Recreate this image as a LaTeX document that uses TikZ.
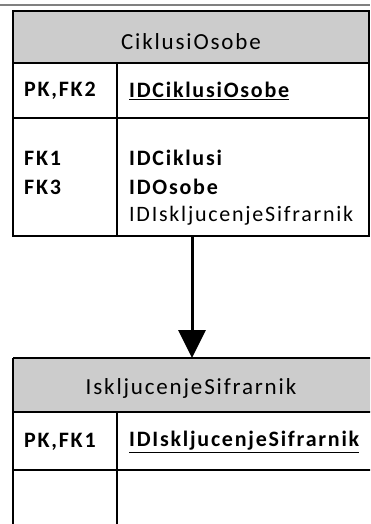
\documentclass[tikz,border=0pt]{standalone}
\usepackage{fontspec}
\setmainfont{Carlito}[LetterSpace=8]
\usetikzlibrary{arrows.meta}
\begin{document}
\begin{tikzpicture}[x=1pt,y=-1pt,
  txt/.style={inner sep=0pt,font=\fontsize{22}{26}\selectfont},
  htxt/.style={inner sep=0pt,font=\fontsize{23}{27}\selectfont},
  lbl/.style={txt,anchor=west},
  frame/.style={draw=black,line width=2pt},
  divider/.style={draw=black,line width=1.5pt}]
\useasboundingbox (0,0) rectangle (370,524);
\clip (0,0) rectangle (370,524);
\fill[white] (0,0) rectangle (370,524);
\draw[gray,line width=2pt] (0,5.5) -- (370,5.5);
% Box 1
\fill[black!20] (13,11) rectangle (369,63);
\draw[divider] (13,63) -- (369,63);
\draw[divider] (13,118) -- (369,118);
\draw[divider] (117,63) -- (117,236);
\draw[frame] (13,11) rectangle (369,236);
\node[htxt] (t1) at (191,42) {CiklusiOsobe};
\node[lbl] (pk1) at (24,91) {\textbf{PK,FK2}};
\node[lbl] (id1) at (129,91) {\textbf{\underline{IDCiklusiOsobe}}};
\node[lbl] (fk1) at (24,158) {\textbf{FK1}};
\node[lbl] (fk3) at (24,187) {\textbf{FK3}};
\node[lbl] (a1) at (129,158) {\textbf{IDCiklusi}};
\node[lbl] (a2) at (129,187) {\textbf{IDOsobe}};
\node[lbl] (a3) at (129,216) {IDIskljucenjeSifrarnik};
\coordinate (b1) at (192,236);
% Box 2
\fill[black!20] (13,358) rectangle (380,412);
\draw[divider] (13,412) -- (380,412);
\draw[divider] (13,470) -- (380,470);
\draw[divider] (117,412) -- (117,530);
\draw[frame] (13,358) -- (380,358);
\draw[frame] (13,358) -- (13,530);
\node[htxt] (t2) at (191,388) {IskljucenjeSifrarnik};
\node[lbl] (pk2) at (24,442) {\textbf{PK,FK1}};
\node[lbl] (id2) at (129,442) {\textbf{\underline{IDIskljucenjeSifrarnik}}};
\coordinate (b2) at (192,358);
\draw[line width=3pt,-{Triangle[length=28pt,width=27pt]}] (b1) -- (b2);
\end{tikzpicture}
\end{document}
